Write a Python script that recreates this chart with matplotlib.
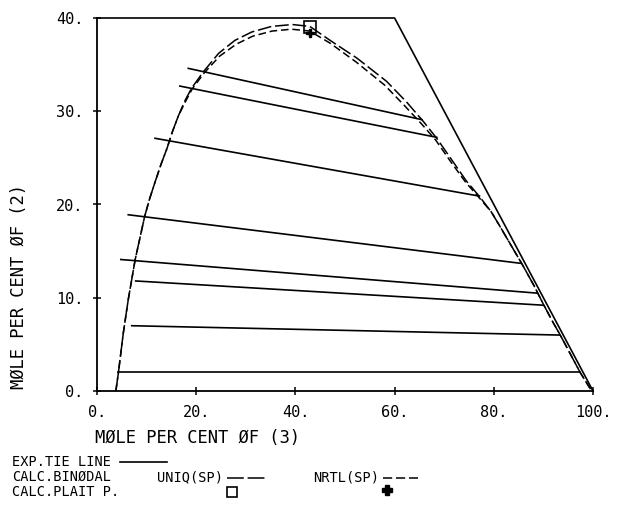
import matplotlib
matplotlib.use("Agg")
import matplotlib.pyplot as plt
from matplotlib.lines import Line2D

# ---- data ----
tie_x_left = [18.4, 16.7, 11.7, 6.3, 4.8, 7.8, 7.0, 4.2]
tie_y_left = [34.6, 32.7, 27.1, 18.9, 14.1, 11.8, 7.0, 2.0]
tie_x_right = [65.5, 68.5, 77.1, 85.3, 88.6, 90.0, 93.2, 97.4]
tie_y_right = [29.1, 27.2, 20.9, 13.7, 10.5, 9.2, 6.0, 2.0]

uniq_x = [3.8, 4.3, 5.3, 6.3, 7.7, 9.6, 10.6, 11.7, 12.9, 14.1, 15.2, 16.4, 17.7, 19.1, 21.4,
          24.5, 27.8, 31.2, 35.2, 39.4, 42.9, 47.0, 52.4, 58.4, 62.4, 65.8, 68.5, 71.5,
          74.5, 77.2, 79.5, 81.3, 83.5, 85.6, 88.0, 90.0, 92.0, 93.4, 95.5, 97.4, 99.5]
uniq_y = [0.0, 1.9, 6.2, 9.8, 14.1, 18.7, 20.6, 22.4, 24.3, 26.0, 27.8, 29.5, 31.1, 32.5, 34.2,
          36.2, 37.6, 38.5, 39.1, 39.3, 39.1, 37.6, 35.7, 33.2, 31.0, 28.9, 27.1, 24.8,
          22.5, 20.8, 19.2, 17.6, 15.6, 13.7, 11.4, 9.3, 7.3, 6.0, 3.9, 2.0, 0.2]

nrtl_x = [3.8, 4.3, 5.3, 6.3, 7.7, 9.6, 10.6, 11.7, 12.9, 14.1, 15.2, 16.4, 17.8, 19.2, 21.6,
          24.7, 28.1, 31.4, 35.3, 39.2, 42.9, 47.0, 52.2, 58.0, 62.0, 65.5, 68.3, 71.3,
          74.3, 77.1, 79.5, 81.3, 83.5, 85.6, 88.0, 90.0, 92.0, 93.4, 95.5, 97.4, 99.5]
nrtl_y = [0.0, 1.9, 6.2, 9.8, 14.1, 18.7, 20.6, 22.4, 24.3, 26.0, 27.8, 29.5, 31.0, 32.4, 34.1,
          35.9, 37.2, 38.05, 38.6, 38.8, 38.6, 37.3, 35.3, 32.8, 30.6, 28.6, 26.9, 24.6,
          22.4, 20.7, 19.2, 17.6, 15.6, 13.7, 11.4, 9.3, 7.3, 6.0, 3.9, 2.0, 0.2]

plait_uniq = (42.9, 39.0)
plait_nrtl = (42.9, 38.4)

frame_x = [0, 60, 100]
frame_y = [40, 40, 0]

xticks = [0, 20, 40, 60, 80, 100]
yticks = [0, 10, 20, 30, 40]
xtick_labels = ["0.", "20.", "40.", "60.", "80.", "100."]
ytick_labels = ["0.", "10.", "20.", "30.", "40."]

FONT = "DejaVu Sans Mono"
W, H = 620, 511

fig = plt.figure(figsize=(W / 100, H / 100), dpi=100)
ax = fig.add_axes([97 / W, 1 - 391 / H, (593 - 97) / W, (391 - 18) / H])
ax.set_xlim(0, 100)
ax.set_ylim(0, 40)
for s in ("top", "right"):
    ax.spines[s].set_visible(False)
for s in ("left", "bottom"):
    ax.spines[s].set_linewidth(1.3)
    ax.spines[s].set_color("black")

lw = 1.2
ax.plot(frame_x, frame_y, color="black", lw=lw, clip_on=False)

for xl, yl, xr, yr in zip(tie_x_left, tie_y_left, tie_x_right, tie_y_right):
    ax.plot([xl, xr], [yl, yr], color="black", lw=lw)

ax.plot(uniq_x, uniq_y, color="black", lw=1.1, dashes=(9, 2.5))
ax.plot(nrtl_x, nrtl_y, color="black", lw=1.1, dashes=(5, 2.5))

ax.plot([plait_uniq[0]], [plait_uniq[1]], marker="s", ms=9, mfc="none", mec="black", mew=1.2, clip_on=False)
ax.plot([plait_nrtl[0]], [plait_nrtl[1]], marker="P", ms=6, color="black", clip_on=False)

ax.set_xticks(xticks)
ax.set_xticklabels(xtick_labels, fontfamily=FONT, fontsize=11)
ax.set_yticks(yticks)
ax.set_yticklabels(ytick_labels, fontfamily=FONT, fontsize=11)
ax.tick_params(direction="inout", length=6, width=1.1)
ax.tick_params(axis="x", pad=7)
ax.tick_params(axis="y", pad=7)

fig.text(95 / W, 1 - 438 / H, "MØLE PER CENT ØF (3)", ha="left", va="center",
         fontfamily=FONT, fontsize=12.3)
fig.text(19 / W, 1 - 389 / H, "MØLE PER CENT ØF (2)", ha="center", va="bottom",
         rotation=90, fontfamily=FONT, fontsize=12.3)

# legend block
fs = 9.8
fig.text(12 / W, 1 - 462 / H, "EXP.TIE LINE", ha="left", va="center", fontfamily=FONT, fontsize=fs)
fig.text(12 / W, 1 - 477 / H, "CALC.BINØDAL", ha="left", va="center", fontfamily=FONT, fontsize=fs)
fig.text(12 / W, 1 - 492 / H, "CALC.PLAIT P.", ha="left", va="center", fontfamily=FONT, fontsize=fs)
fig.text(157 / W, 1 - 477 / H, "UNIQ(SP)", ha="left", va="center", fontfamily=FONT, fontsize=fs)
fig.text(313 / W, 1 - 477 / H, "NRTL(SP)", ha="left", va="center", fontfamily=FONT, fontsize=fs)

fig.add_artist(Line2D([120 / W, 167 / W], [1 - 462 / H] * 2, color="black", lw=1.2))
fig.add_artist(Line2D([227 / W, 265 / W], [1 - 478 / H] * 2, color="black", lw=1.1, dashes=(11, 2.5)))
fig.add_artist(Line2D([383 / W, 418 / W], [1 - 478 / H] * 2, color="black", lw=1.1, dashes=(6, 2.5)))
fig.add_artist(Line2D([232 / W], [1 - 492 / H], marker="s", ms=7, mfc="none", mec="black", mew=1.2))
fig.add_artist(Line2D([387 / W], [1 - 490 / H], marker="P", ms=6.5, color="black"))

fig.savefig("out.png", dpi=100)
